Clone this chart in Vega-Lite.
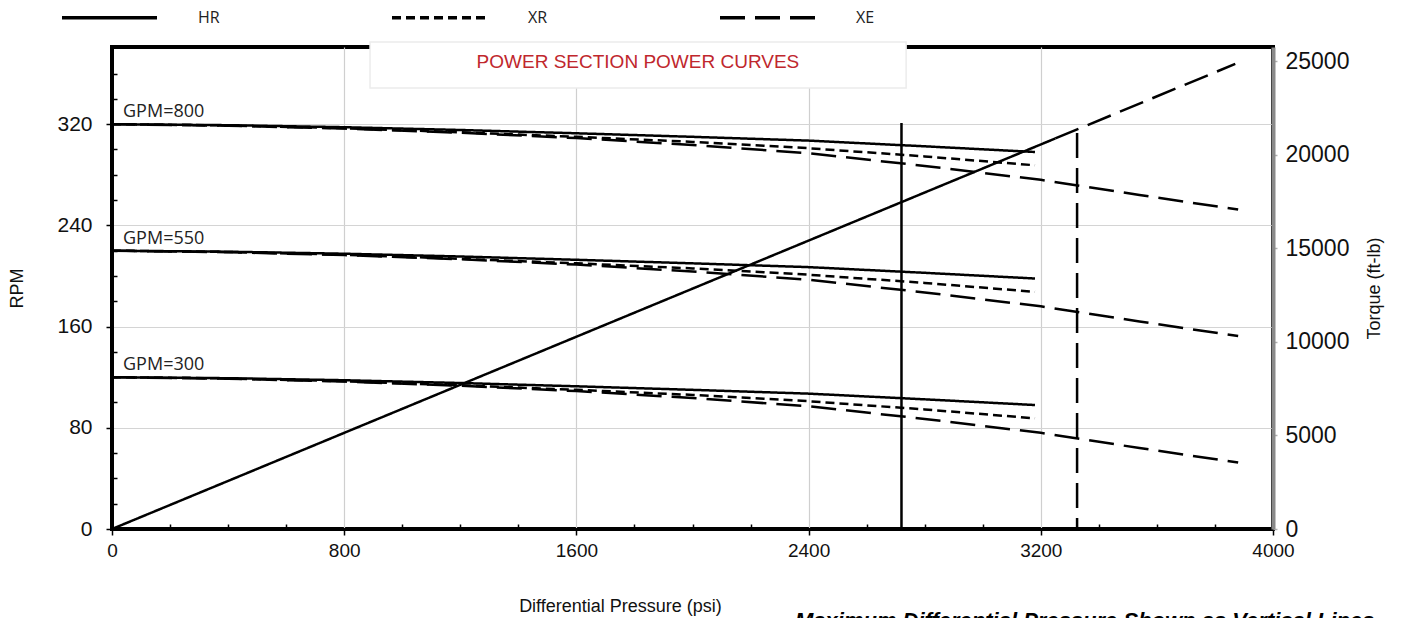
{
  "$schema": "https://vega.github.io/schema/vega-lite/v6.json",
  "width": 1161,
  "height": 482,
  "autosize": {"type": "none"},
  "padding": {"left": 112, "top": 47, "right": 128, "bottom": 89},
  "background": "white",
  "config": {
    "font": "Liberation Sans",
    "view": {"stroke": "black", "strokeWidth": 4}
  },
  "datasets": {
    "curves": [
      {"c": "800HR", "m": "HR", "p": 0, "rpm": 320}, {"c": "800HR", "m": "HR", "p": 400, "rpm": 319.2}, {"c": "800HR", "m": "HR", "p": 800, "rpm": 317.6}, {"c": "800HR", "m": "HR", "p": 1200, "rpm": 315.4}, {"c": "800HR", "m": "HR", "p": 1600, "rpm": 312.8}, {"c": "800HR", "m": "HR", "p": 2000, "rpm": 310}, {"c": "800HR", "m": "HR", "p": 2400, "rpm": 307}, {"c": "800HR", "m": "HR", "p": 2800, "rpm": 302.5}, {"c": "800HR", "m": "HR", "p": 3180, "rpm": 298},
      {"c": "800XR", "m": "XR", "p": 0, "rpm": 320}, {"c": "800XR", "m": "XR", "p": 400, "rpm": 319}, {"c": "800XR", "m": "XR", "p": 800, "rpm": 316.8}, {"c": "800XR", "m": "XR", "p": 1200, "rpm": 313.6}, {"c": "800XR", "m": "XR", "p": 1600, "rpm": 310}, {"c": "800XR", "m": "XR", "p": 2000, "rpm": 306}, {"c": "800XR", "m": "XR", "p": 2400, "rpm": 301}, {"c": "800XR", "m": "XR", "p": 2800, "rpm": 294.5}, {"c": "800XR", "m": "XR", "p": 3180, "rpm": 287.5},
      {"c": "800XE", "m": "XE", "p": 0, "rpm": 320}, {"c": "800XE", "m": "XE", "p": 400, "rpm": 318.8}, {"c": "800XE", "m": "XE", "p": 800, "rpm": 316.5}, {"c": "800XE", "m": "XE", "p": 1200, "rpm": 313.2}, {"c": "800XE", "m": "XE", "p": 1600, "rpm": 309}, {"c": "800XE", "m": "XE", "p": 2000, "rpm": 303.5}, {"c": "800XE", "m": "XE", "p": 2400, "rpm": 297}, {"c": "800XE", "m": "XE", "p": 2800, "rpm": 287}, {"c": "800XE", "m": "XE", "p": 3200, "rpm": 276}, {"c": "800XE", "m": "XE", "p": 3540, "rpm": 264}, {"c": "800XE", "m": "XE", "p": 3880, "rpm": 252.5},
      {"c": "550HR", "m": "HR", "p": 0, "rpm": 220}, {"c": "550HR", "m": "HR", "p": 400, "rpm": 219.2}, {"c": "550HR", "m": "HR", "p": 800, "rpm": 217.6}, {"c": "550HR", "m": "HR", "p": 1200, "rpm": 215.4}, {"c": "550HR", "m": "HR", "p": 1600, "rpm": 212.8}, {"c": "550HR", "m": "HR", "p": 2000, "rpm": 210}, {"c": "550HR", "m": "HR", "p": 2400, "rpm": 207}, {"c": "550HR", "m": "HR", "p": 2800, "rpm": 202.5}, {"c": "550HR", "m": "HR", "p": 3180, "rpm": 198},
      {"c": "550XR", "m": "XR", "p": 0, "rpm": 220}, {"c": "550XR", "m": "XR", "p": 400, "rpm": 219}, {"c": "550XR", "m": "XR", "p": 800, "rpm": 216.8}, {"c": "550XR", "m": "XR", "p": 1200, "rpm": 213.6}, {"c": "550XR", "m": "XR", "p": 1600, "rpm": 210}, {"c": "550XR", "m": "XR", "p": 2000, "rpm": 206}, {"c": "550XR", "m": "XR", "p": 2400, "rpm": 201}, {"c": "550XR", "m": "XR", "p": 2800, "rpm": 194.5}, {"c": "550XR", "m": "XR", "p": 3180, "rpm": 187.5},
      {"c": "550XE", "m": "XE", "p": 0, "rpm": 220}, {"c": "550XE", "m": "XE", "p": 400, "rpm": 218.8}, {"c": "550XE", "m": "XE", "p": 800, "rpm": 216.5}, {"c": "550XE", "m": "XE", "p": 1200, "rpm": 213.2}, {"c": "550XE", "m": "XE", "p": 1600, "rpm": 209}, {"c": "550XE", "m": "XE", "p": 2000, "rpm": 203.5}, {"c": "550XE", "m": "XE", "p": 2400, "rpm": 197}, {"c": "550XE", "m": "XE", "p": 2800, "rpm": 187}, {"c": "550XE", "m": "XE", "p": 3200, "rpm": 176}, {"c": "550XE", "m": "XE", "p": 3540, "rpm": 164}, {"c": "550XE", "m": "XE", "p": 3880, "rpm": 152.5},
      {"c": "300HR", "m": "HR", "p": 0, "rpm": 120}, {"c": "300HR", "m": "HR", "p": 400, "rpm": 119.2}, {"c": "300HR", "m": "HR", "p": 800, "rpm": 117.6}, {"c": "300HR", "m": "HR", "p": 1200, "rpm": 115.4}, {"c": "300HR", "m": "HR", "p": 1600, "rpm": 112.8}, {"c": "300HR", "m": "HR", "p": 2000, "rpm": 110}, {"c": "300HR", "m": "HR", "p": 2400, "rpm": 107}, {"c": "300HR", "m": "HR", "p": 2800, "rpm": 102.5}, {"c": "300HR", "m": "HR", "p": 3180, "rpm": 98},
      {"c": "300XR", "m": "XR", "p": 0, "rpm": 120}, {"c": "300XR", "m": "XR", "p": 400, "rpm": 119}, {"c": "300XR", "m": "XR", "p": 800, "rpm": 116.8}, {"c": "300XR", "m": "XR", "p": 1200, "rpm": 113.6}, {"c": "300XR", "m": "XR", "p": 1600, "rpm": 110}, {"c": "300XR", "m": "XR", "p": 2000, "rpm": 106}, {"c": "300XR", "m": "XR", "p": 2400, "rpm": 101}, {"c": "300XR", "m": "XR", "p": 2800, "rpm": 94.5}, {"c": "300XR", "m": "XR", "p": 3180, "rpm": 87.5},
      {"c": "300XE", "m": "XE", "p": 0, "rpm": 120}, {"c": "300XE", "m": "XE", "p": 400, "rpm": 118.8}, {"c": "300XE", "m": "XE", "p": 800, "rpm": 116.5}, {"c": "300XE", "m": "XE", "p": 1200, "rpm": 113.2}, {"c": "300XE", "m": "XE", "p": 1600, "rpm": 109}, {"c": "300XE", "m": "XE", "p": 2000, "rpm": 103.5}, {"c": "300XE", "m": "XE", "p": 2400, "rpm": 97}, {"c": "300XE", "m": "XE", "p": 2800, "rpm": 87}, {"c": "300XE", "m": "XE", "p": 3200, "rpm": 76}, {"c": "300XE", "m": "XE", "p": 3540, "rpm": 64}, {"c": "300XE", "m": "XE", "p": 3880, "rpm": 52.5}
    ],
    "limits": [
      {"m": "HR", "p": 2720, "rpm": 321, "rpm0": 0},
      {"m": "XE", "p": 3325, "rpm": 313, "rpm0": 0}
    ],
    "gpm": [
      {"label": "GPM=800", "p": 38, "rpm": 325.5},
      {"label": "GPM=550", "p": 38, "rpm": 225.5},
      {"label": "GPM=300", "p": 38, "rpm": 125.5}
    ],
    "torque": [
      {"c": "THR", "m": "HR", "p": 0, "torque": 0},
      {"c": "THR", "m": "HR", "p": 3250, "torque": 20865},
      {"c": "TXE", "m": "XE", "p": 3250, "torque": 20865},
      {"c": "TXE", "m": "XE", "p": 3870, "torque": 24845}
    ],
    "box": [{"p": 889, "p2": 2736, "rpm": 348.6, "rpm2": 385}],
    "titles": [{"text": "POWER SECTION POWER CURVES", "p": 1812, "rpm": 369}],
    "notes": [{"text": "Maximum Differential Pressure Shown as Vertical Lines", "p": 2353, "rpm": -78}]
  },
  "encoding": {
    "x": {
      "field": "p",
      "type": "quantitative",
      "scale": {"domain": [0, 4000], "nice": false, "zero": false},
      "axis": {
        "title": "Differential Pressure (psi)",
        "values": [0, 200, 400, 600, 800, 1000, 1200, 1400, 1600, 1800, 2000, 2200, 2400, 2600, 2800, 3000, 3200, 3400, 3600, 3800, 4000],
        "format": "d",
        "labelExpr": "datum.value % 800 === 0 ? datum.label : ''",
        "grid": true,
        "gridColor": "#cfcfcf",
        "gridWidth": 1.2,
        "gridOpacity": {"condition": {"test": "datum.value % 800 === 0 && datum.value > 0 && datum.value < 4000", "value": 1}, "value": 0},
        "tickSize": {"condition": {"test": "datum.value % 800 === 0", "value": 6}, "value": -5},
        "tickColor": "black",
        "tickWidth": 1.5,
        "domainColor": "black",
        "domainWidth": 3,
        "labelFontSize": 19,
        "labelColor": "#111",
        "labelPadding": 6,
        "labelFlush": false,
        "labelOverlap": false,
        "titleFontSize": 18,
        "titleFontWeight": "normal",
        "titleColor": "#111",
        "titleX": 508,
        "titleY": 77,
        "titleBaseline": "middle"
      }
    }
  },
  "layer": [
    {
      "encoding": {
        "y": {
          "field": "rpm",
          "type": "quantitative",
          "scale": {"domain": [0, 381], "nice": false, "zero": false},
          "axis": {
            "title": "RPM",
            "values": [0, 20, 40, 60, 80, 100, 120, 140, 160, 180, 200, 220, 240, 260, 280, 300, 320, 340, 360],
            "format": "d",
            "labelExpr": "datum.value % 80 === 0 ? datum.label : ''",
            "grid": true,
            "gridColor": "#d4d4d4",
            "gridWidth": 1.2,
            "gridOpacity": {"condition": {"test": "datum.value % 80 === 0 && datum.value > 0", "value": 1}, "value": 0},
            "tickSize": {"condition": {"test": "datum.value % 80 === 0", "value": 6}, "value": -5},
            "tickColor": "black",
            "tickWidth": 1.5,
            "domainColor": "black",
            "domainWidth": 3,
            "labelFontSize": 21,
            "labelColor": "#111",
            "labelPadding": 14,
            "labelOverlap": false,
            "titleFontSize": 18,
            "titleFontWeight": "normal",
            "titleColor": "#111",
            "titlePadding": 30
          }
        }
      },
      "layer": [
        {
          "data": {"name": "box"},
          "mark": {"type": "rect", "fill": "white", "stroke": "#ececec", "strokeWidth": 1.5},
          "encoding": {"x2": {"field": "p2"}, "y2": {"field": "rpm2"}}
        },
        {
          "data": {"name": "curves"},
          "mark": {"type": "line", "color": "black", "strokeWidth": 2.5},
          "encoding": {
            "detail": {"field": "c"},
            "strokeDash": {
              "field": "m",
              "type": "nominal",
              "scale": {"domain": ["HR", "XR", "XE"], "range": [[1, 0], [9, 5], [25, 10]]},
              "legend": {
                "title": null,
                "orient": "none",
                "legendX": -52,
                "legendY": -79,
                "direction": "horizontal",
                "columns": 3,
                "symbolType": "stroke",
                "symbolSize": 9025,
                "symbolStrokeWidth": 3.5,
                "symbolStrokeColor": "black",
                "labelOffset": 39,
                "columnPadding": 165,
                "labelFontSize": 16,
                "labelFont": "Open Sans",
                "labelColor": "#222",
                "padding": 0
              }
            }
          }
        },
        {
          "data": {"name": "limits"},
          "mark": {"type": "rule", "color": "black", "strokeWidth": 2.5},
          "encoding": {
            "y2": {"field": "rpm0"},
            "strokeDash": {"field": "m", "type": "nominal"}
          }
        },
        {
          "data": {"name": "gpm"},
          "mark": {"type": "text", "align": "left", "baseline": "alphabetic", "font": "Open Sans", "fontSize": 18, "color": "#222"},
          "encoding": {"text": {"field": "label"}}
        },
        {
          "data": {"name": "titles"},
          "mark": {"type": "text", "align": "center", "baseline": "middle", "fontSize": 19, "color": "#c0272d"},
          "encoding": {"text": {"field": "text"}}
        },
        {
          "data": {"name": "notes"},
          "mark": {"type": "text", "align": "left", "baseline": "alphabetic", "fontSize": 22, "fontWeight": "bold", "fontStyle": "italic", "color": "black"},
          "encoding": {"text": {"field": "text"}}
        }
      ]
    },
    {
      "data": {"name": "torque"},
      "mark": {"type": "line", "color": "black", "strokeWidth": 2.5},
      "encoding": {
        "y": {
          "field": "torque",
          "type": "quantitative",
          "scale": {"domain": [0, 25750], "nice": false, "zero": false},
          "axis": {
            "orient": "right",
            "title": "Torque (ft-lb)",
            "values": [0, 5000, 10000, 15000, 20000, 25000],
            "format": "d",
            "grid": false,
            "domainColor": "#8a8a8a",
            "domainWidth": 4,
            "tickColor": "#b0b0b0",
            "tickSize": 4,
            "tickWidth": 1.5,
            "labelFontSize": 23,
            "labelColor": "#111",
            "labelPadding": 8,
            "labelOverlap": false,
            "titleAngle": 270,
            "titleAlign": "center",
            "titleBaseline": "middle",
            "titleX": 101,
            "titleY": 241,
            "titleFontSize": 18,
            "titleFontWeight": "normal",
            "titleColor": "#111"
          }
        },
        "detail": {"field": "c"},
        "strokeDash": {"field": "m", "type": "nominal"}
      }
    }
  ],
  "resolve": {"scale": {"y": "independent"}}
}
